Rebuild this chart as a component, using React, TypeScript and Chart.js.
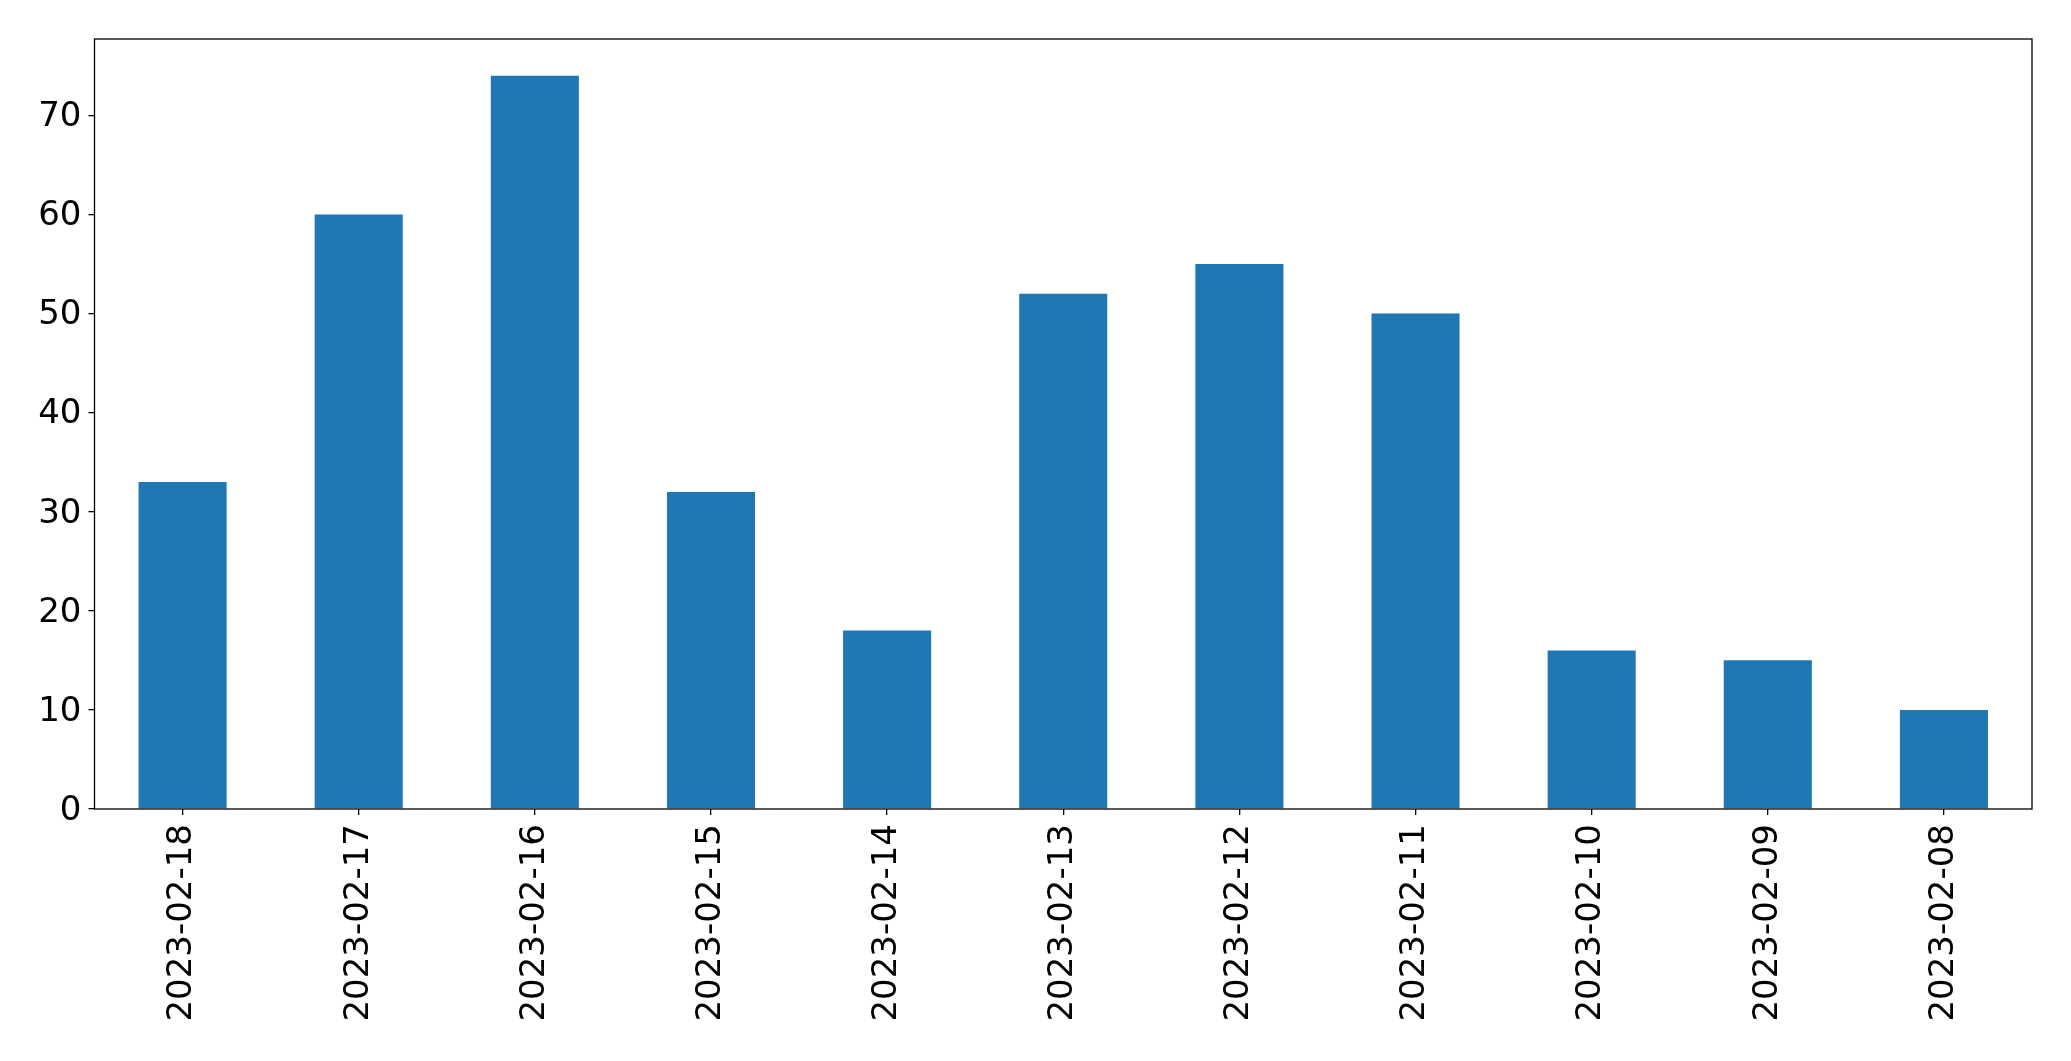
import React, { useEffect, useRef } from "react";
import { Chart, registerables } from "chart.js";

Chart.register(...registerables);

const categories = [
  "2023-02-18", "2023-02-17", "2023-02-16", "2023-02-15", "2023-02-14", "2023-02-13",
  "2023-02-12", "2023-02-11", "2023-02-10", "2023-02-09", "2023-02-08",
];
const values = [33, 60, 74, 32, 18, 52, 55, 50, 16, 15, 10];
const yTicks = [0, 10, 20, 30, 40, 50, 60, 70];
const yMax = 77.7;

const W = 2071;
const H = 1061;

const frame = {
  id: "frame",
  afterDraw(chart: any) {
    const { ctx, chartArea } = chart;
    ctx.save();
    ctx.strokeStyle = "#000";
    ctx.lineWidth = 1.3;
    ctx.strokeRect(chartArea.left, chartArea.top, chartArea.right - chartArea.left, chartArea.bottom - chartArea.top);
    ctx.restore();
  },
};

export default function App() {
  const ref = useRef<HTMLCanvasElement | null>(null);
  useEffect(() => {
    document.body.style.margin = "0";
    const font = { family: "'DejaVu Sans', sans-serif", size: 34 };
    const chart = new Chart(ref.current!, {
      type: "bar",
      data: {
        labels: categories,
        datasets: [
          {
            data: values,
            backgroundColor: "#1f77b4",
            borderWidth: 0,
            barPercentage: 0.5,
            categoryPercentage: 1,
          },
        ],
      },
      options: {
        responsive: false,
        animation: false,
        devicePixelRatio: 1,
        layout: { padding: { left: 0, top: 39, right: 39, bottom: 0 } },
        plugins: { legend: { display: false }, tooltip: { enabled: false } },
        scales: {
          x: {
            offset: true,
            grid: { display: true, drawOnChartArea: false, drawTicks: true, tickLength: 6, color: "#000", offset: false, lineWidth: 1.3 },
            border: { display: false },
            ticks: { color: "#000", font, maxRotation: 90, minRotation: 90, padding: 9, autoSkip: false },
            afterFit(scale: any) { scale.height = H - 809; },
          },
          y: {
            min: 0,
            max: yMax,
            grid: { display: true, drawOnChartArea: false, drawTicks: true, tickLength: 6, color: "#000", lineWidth: 1.3 },
            border: { display: false },
            afterBuildTicks(scale: any) { scale.ticks = yTicks.map((v) => ({ value: v })); },
            ticks: { color: "#000", font, padding: 7, labelOffset: 2 },
            afterFit(scale: any) { scale.width = 94.5; },
          },
        },
      },
      plugins: [frame],
    });
    return () => chart.destroy();
  }, []);
  return (
    <canvas
      ref={ref}
      width={W}
      height={H}
      style={{ position: "absolute", left: 0, top: 0, width: W, height: H }}
    />
  );
}
